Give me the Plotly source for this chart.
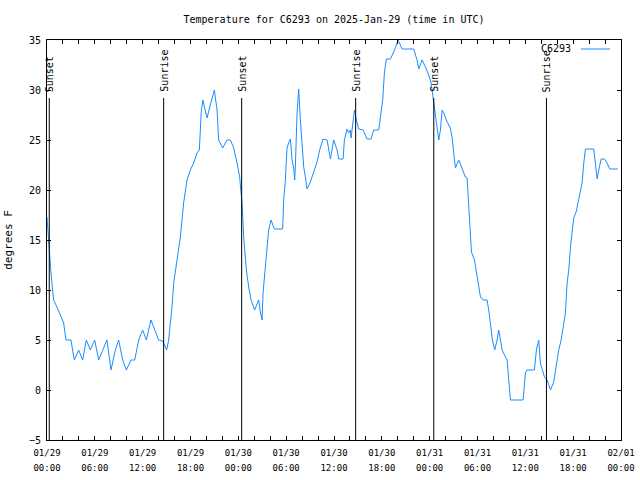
import pandas as pd
import plotly.graph_objects as go

# ---- data ----
START = "2025-01-29 00:00"
END = "2025-02-01 00:00"
hours = [0.0, 0.12, 0.25, 0.33, 0.5, 0.62, 0.83, 1.13, 1.46, 1.79, 2.09, 2.38, 3.0, 3.43, 3.97,
         4.47, 4.93, 5.43, 5.98, 6.48, 7.52, 8.03, 8.57, 8.99, 9.49, 9.95, 10.54, 11.0, 11.5, 12.0,
         12.46, 13.04, 14.0, 14.51, 15.01, 15.26, 15.47, 15.68, 15.89, 16.31, 16.73, 17.14, 17.56,
         17.98, 18.4, 18.82, 19.11, 19.36, 19.57, 19.74, 20.08, 20.41, 20.7, 20.99, 21.33, 21.53,
         22.03, 22.58, 23.0, 23.42, 23.84, 24.17, 24.34, 24.47, 24.67, 25.01, 25.3, 25.6, 26.05,
         26.55, 26.76, 26.98, 27.1, 27.39, 27.6, 27.8, 28.1, 28.52, 29.56, 29.69, 29.9, 30.11,
         30.31, 30.53, 30.74, 30.94, 31.07, 31.15, 31.37, 31.57, 31.78, 31.99, 32.2, 32.41, 32.62,
         33.04, 33.45, 33.87, 34.2, 34.63, 35.13, 35.33, 35.55, 35.96, 36.39, 36.59, 37.14, 37.3,
         37.64, 37.84, 38.06, 38.14, 38.39, 38.56, 38.81, 39.1, 39.65, 40.15, 40.65, 40.98, 41.61,
         41.82, 42.11, 42.32, 42.57, 43.07, 43.49, 44.04, 44.54, 46.0, 46.42, 46.63, 47.05, 47.47,
         47.88, 48.18, 48.43, 48.6, 48.85, 49.14, 49.35, 49.56, 49.77, 50.19, 50.6, 50.82, 51.02,
         51.23, 51.65, 52.07, 52.48, 52.7, 52.82, 52.99, 53.11, 53.24, 53.62, 53.95, 54.16, 54.37,
         54.7, 55.2, 55.41, 55.62, 55.87, 56.16, 56.46, 56.66, 56.88, 57.09, 57.38, 57.71, 57.92,
         58.13, 59.72, 60.01, 60.22, 61.14, 61.39, 61.68, 61.89, 62.11, 62.4, 62.74, 63.15, 63.56,
         63.78, 63.99, 64.19, 64.49, 64.82, 65.03, 65.24, 65.45, 65.66, 65.87, 66.07, 66.37, 66.7,
         66.91, 67.12, 67.33, 67.54, 68.58, 68.8, 69.01, 69.21, 69.51, 69.93, 70.26, 70.59, 71.6]
temps = [17.3, 15.8, 14.2, 12.7, 11.7, 10.7, 9.0, 8.5, 7.8, 7.3, 6.7, 5.0, 5.0, 3.0, 4.0,
         3.0, 5.0, 4.0, 5.0, 3.0, 5.0, 2.0, 4.0, 5.0, 3.0, 2.0, 3.0, 3.0, 5.0, 6.0,
         5.0, 7.0, 5.0, 4.9, 4.0, 5.0, 6.7, 8.3, 10.7, 13.0, 15.3, 18.7, 21.0,
         22.0, 22.7, 23.7, 24.0, 28.0, 29.0, 28.3, 27.2, 28.3, 29.3, 30.0, 28.0, 25.0,
         24.2, 25.0, 25.0, 24.2, 22.7, 21.3, 19.7, 18.7, 15.3, 12.0, 10.3, 9.0, 8.0,
         9.0, 7.8, 7.0, 9.7, 12.7, 14.3, 16.0, 17.0, 16.1, 16.1, 19.0, 21.0, 24.2,
         24.7, 25.1, 23.0, 22.2, 21.0, 22.3, 27.7, 30.1, 27.0, 24.3, 22.3, 21.3, 20.1,
         20.8, 21.8, 22.8, 24.0, 25.1, 25.0, 24.0, 23.1, 25.0, 24.0, 23.1, 23.1, 25.0,
         26.1, 25.7, 26.0, 25.2, 27.0, 28.0, 27.0, 26.1, 26.0, 25.1, 25.1, 26.0, 26.0,
         27.2, 29.0, 31.7, 33.1, 33.1, 33.8, 35.0, 34.1, 34.1, 33.0, 32.1, 33.0, 32.3,
         31.5, 30.7, 29.3, 28.3, 26.8, 25.0, 26.0, 28.0, 27.7, 26.8, 26.2, 25.2, 23.7,
         22.2, 23.0, 22.2, 21.3, 21.2, 19.3, 16.7, 15.0, 13.8, 13.0, 11.2, 10.0, 9.3,
         9.0, 9.0, 8.0, 6.7, 5.0, 4.0, 5.0, 6.0, 4.8, 4.0, 3.5, 3.0, 1.0,
         -1.0, -1.0, 1.7, 2.0, 2.0, 4.0, 5.0, 2.7, 2.0, 1.3, 1.0, 0.0, 0.8,
         2.0, 3.0, 4.0, 5.0, 6.7, 7.7, 10.7, 12.0, 14.3, 15.7, 17.2, 17.8, 19.0,
         20.0, 20.7, 22.7, 24.1, 24.1, 22.3, 21.1, 22.0, 23.1, 23.1, 22.7, 22.1, 22.1]

event_times = ["2025-01-29 00:17", "2025-01-29 14:38", "2025-01-30 00:25",
               "2025-01-30 14:43", "2025-01-31 00:31", "2025-01-31 14:39"]
event_names = ["Sunset", "Sunrise", "Sunset", "Sunrise", "Sunset", "Sunrise"]
EVENT_TOP = 29.2
Y_MIN, Y_MAX = -5, 35
series_name = "C6293"
title_text = "Temperature for C6293 on 2025-Jan-29 (time in UTC)"
y_label = "degrees F"

times = pd.Timestamp(START) + pd.to_timedelta(hours, unit="h")

MONO = "DejaVu Sans Mono"
BLUE = "#1a8cff"

fig = go.Figure()
fig.add_trace(go.Scatter(x=times, y=temps, mode="lines", line=dict(color=BLUE, width=1),
                         showlegend=False, xaxis="x", yaxis="y"))

# event lines (on overlaying axis sharing the same scale)
ex, ey = [], []
for t in event_times:
    ex += [t, t, None]
    ey += [Y_MIN, EVENT_TOP, None]
fig.add_trace(go.Scatter(x=ex, y=ey, mode="lines", line=dict(color="black", width=1),
                         showlegend=False, xaxis="x2", yaxis="y", hoverinfo="skip"))

for t, name in zip(event_times, event_names):
    fig.add_annotation(x=t, y=EVENT_TOP, xref="x", yref="y", text=name, textangle=-90,
                       showarrow=False, yanchor="bottom", xanchor="center", xshift=0, yshift=4,
                       font=dict(family=MONO, size=10, color="black"))

# legend (gnuplot style: text left, sample right)
fig.add_annotation(x=0.9164, y=0.9775, xref="paper", yref="paper", text=series_name,
                   showarrow=False, xanchor="right", yanchor="middle",
                   font=dict(family=MONO, size=10, color="black"))
fig.add_shape(type="line", xref="paper", yref="paper", x0=0.930, x1=0.981, y0=0.9775, y1=0.9775,
              line=dict(color=BLUE, width=1))

SIX_H = 6 * 3600 * 1000
TWO_H = 2 * 3600 * 1000
fig.update_layout(
    width=640, height=480,
    margin=dict(l=47, r=19, t=40, b=40),
    paper_bgcolor="white", plot_bgcolor="white",
    title=dict(text=title_text, x=0.5, xref="paper", xanchor="center",
               y=1 - 19 / 480, yref="container", yanchor="middle", automargin=False,
               font=dict(family=MONO, size=10, color="black")),
    xaxis=dict(range=[START, END], type="date", tickformat="%m/%d", dtick=SIX_H, tick0=START,
               ticks="inside", ticklen=4, tickcolor="black", showline=True, linecolor="black",
               linewidth=1, mirror="ticks", showgrid=False, zeroline=False, automargin=False,
               minor=dict(dtick=TWO_H, ticks="inside", ticklen=4, tickcolor="black", showgrid=False),
               tickfont=dict(family=MONO, size=9, color="black"), ticklabelstandoff=4),
    xaxis2=dict(range=[START, END], type="date", matches="x", overlaying="x", anchor="y",
                side="bottom", tickformat="%H:%M", dtick=SIX_H, tick0=START, ticks="",
                showline=False, showgrid=False, zeroline=False, automargin=False,
                tickfont=dict(family=MONO, size=9, color="black"), ticklabelstandoff=21),
    yaxis=dict(range=[Y_MIN, Y_MAX], dtick=5, ticks="inside", ticklen=4, tickcolor="black",
               showline=True, linecolor="black", linewidth=1, mirror="ticks", showgrid=False,
               zeroline=False, automargin=False, tickfont=dict(family=MONO, size=10, color="black"),
               ticklabelstandoff=3,
               title=dict(text=y_label, font=dict(family=MONO, size=11, color="black"), standoff=14)),
    showlegend=False,
)

fig.write_html("out.html", post_script="document.body.style.margin='0';",
               config={"displayModeBar": False})
